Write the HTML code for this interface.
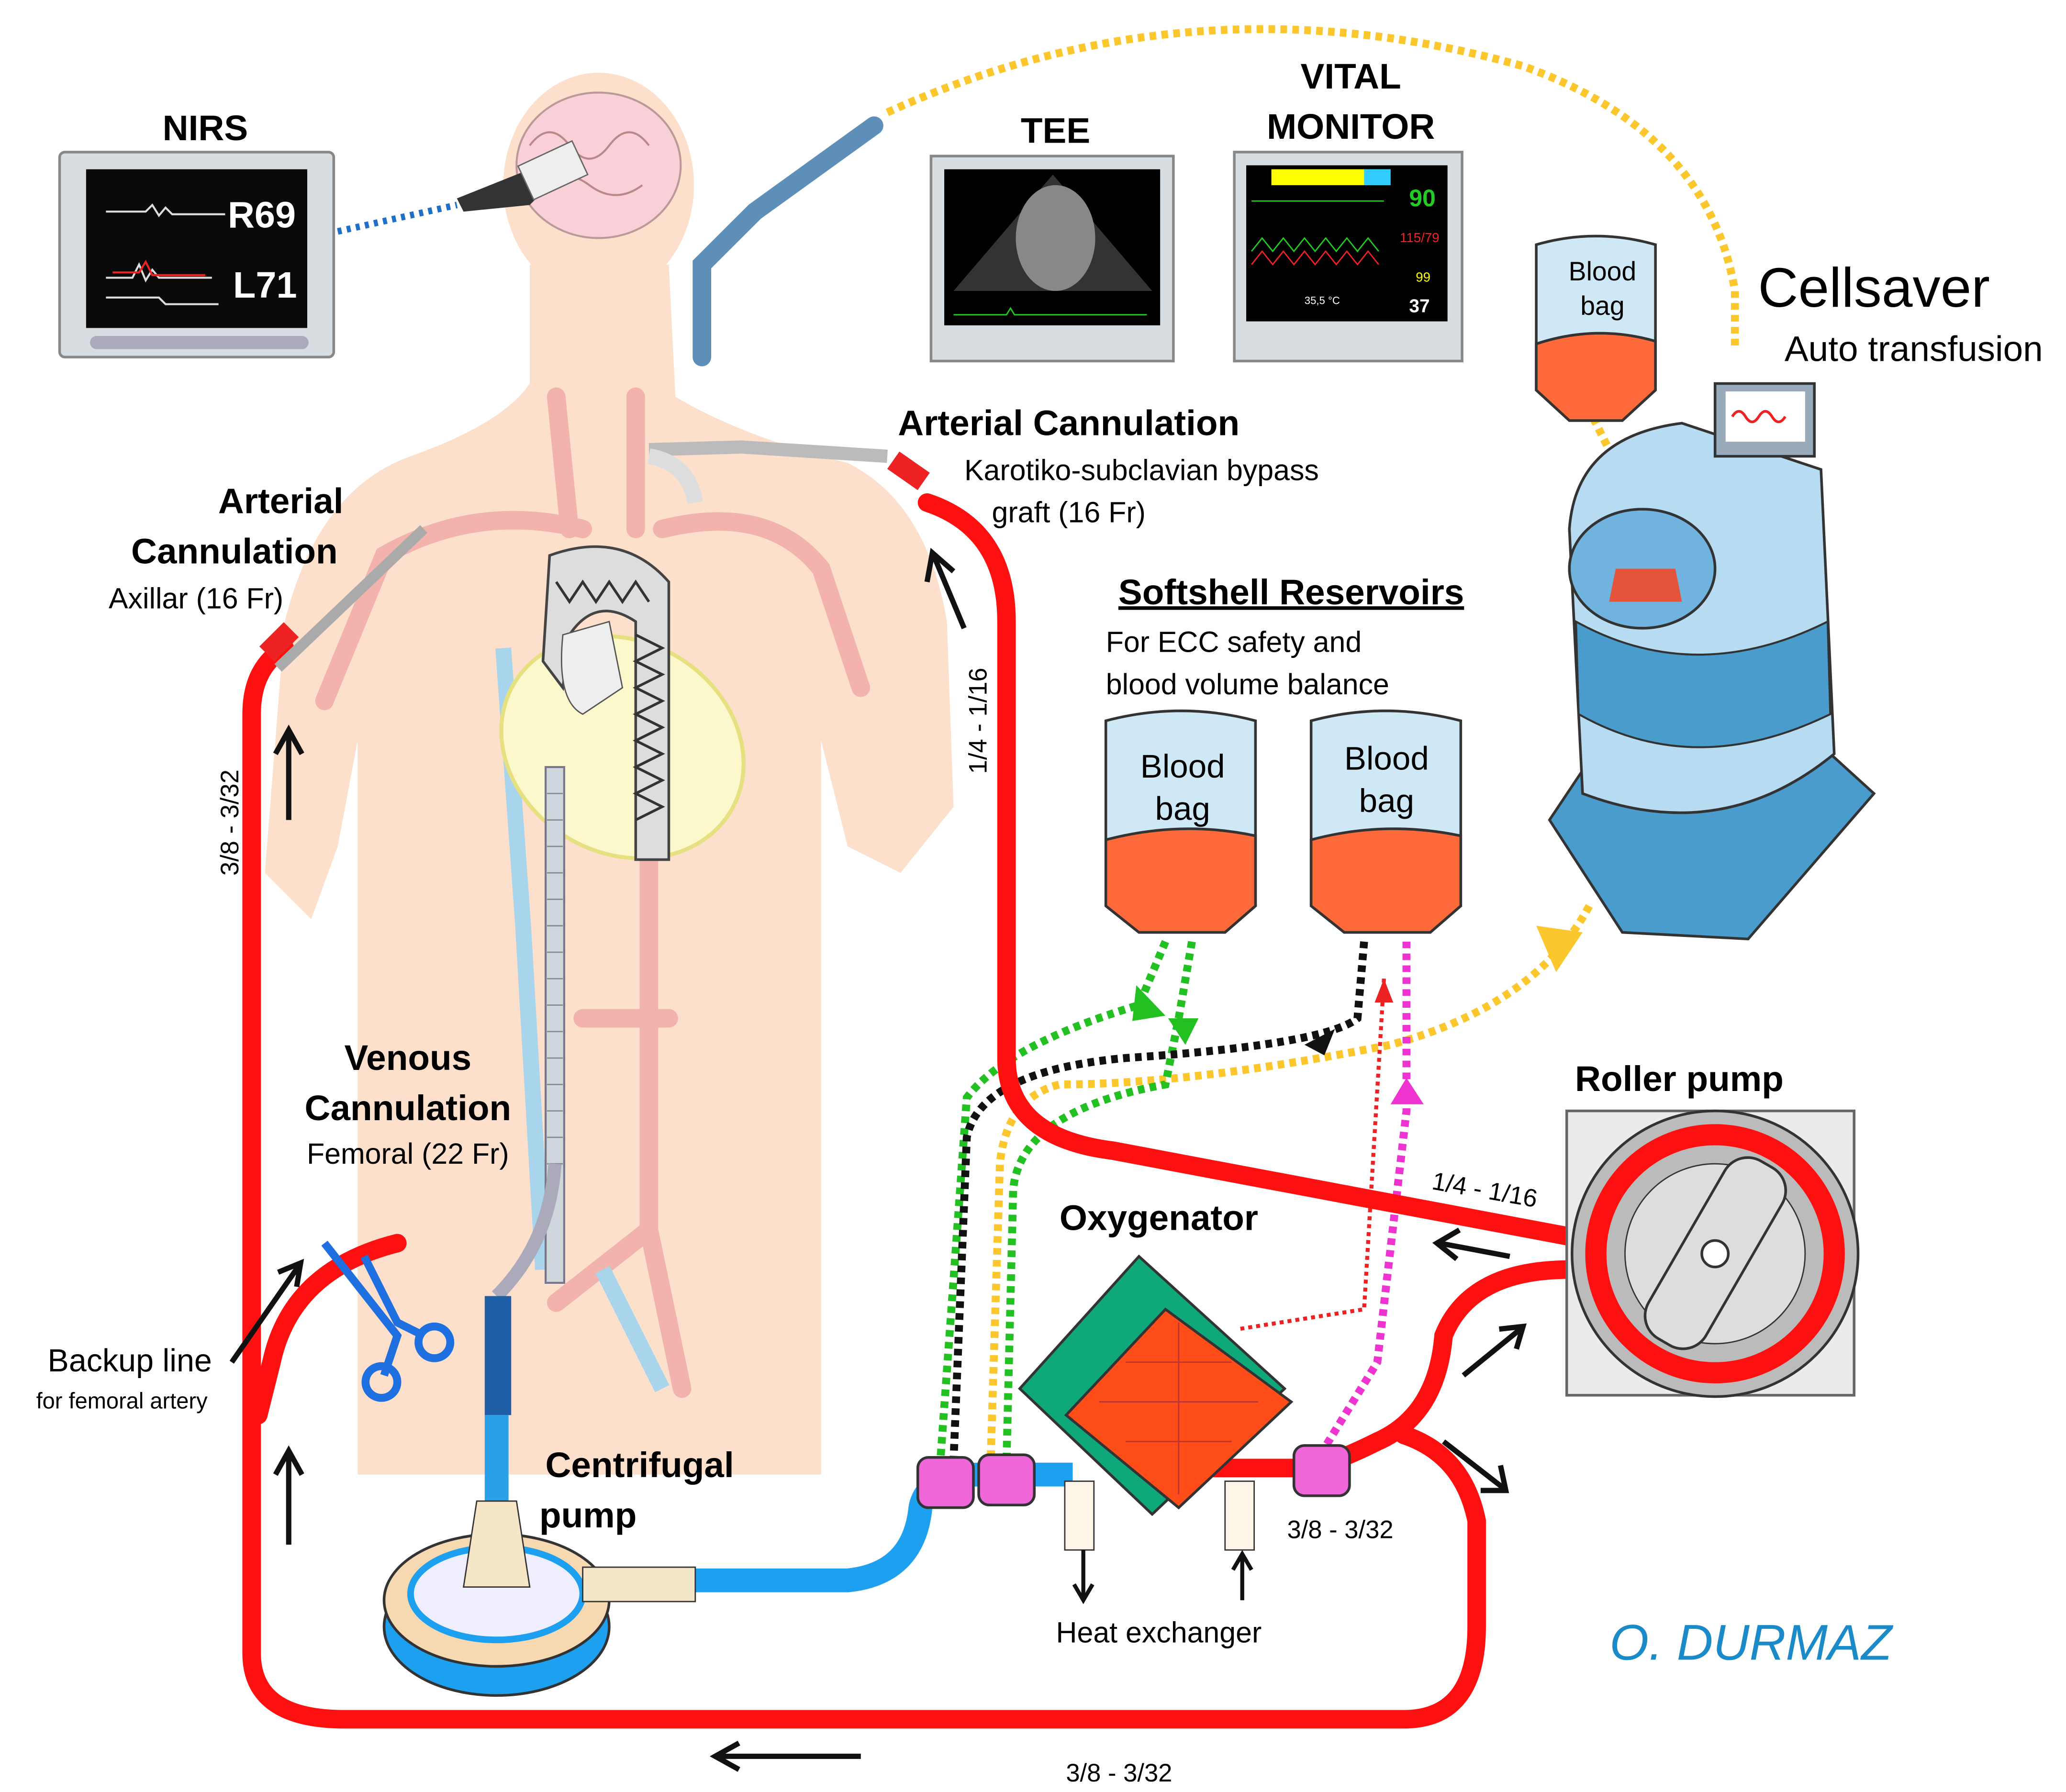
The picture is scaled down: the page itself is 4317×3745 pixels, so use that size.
<!DOCTYPE html>
<html><head><meta charset="utf-8"><style>
html,body{margin:0;padding:0;background:#fff;}
svg{display:block;}
text{font-family:"Liberation Sans",sans-serif;}
</style></head><body>
<svg width="4317" height="3745" viewBox="0 0 1560 1355" preserveAspectRatio="none" xmlns="http://www.w3.org/2000/svg">
<rect width="1560" height="1355" fill="#fff"/>
<!-- body -->
<g fill="#fde0cc">
<ellipse cx="452" cy="140" rx="72" ry="85"/>
<path d="M400 200 L505 200 L510 300 Q560 330 640 350 Q700 380 715 470 L720 610 L680 660 L640 640 L620 560 L620 1115 L270 1115 L270 560 L255 640 L235 695 L200 660 L215 470 Q240 370 310 345 Q380 320 400 290 Z"/>
</g>
<!-- brain -->
<ellipse cx="452" cy="125" rx="62" ry="55" fill="#f9d0d8" stroke="#b99" stroke-width="1.5"/>
<path d="M400 110 q15 -20 30 0 q15 20 30 0 q15 -20 30 0 M405 140 q20 -15 40 0 q20 15 40 0" fill="none" stroke="#b88" stroke-width="1.5"/>
<!-- vessels -->
<g fill="none" stroke="#f2b3ad" stroke-width="14" stroke-linecap="round">
<path d="M420 300 L430 400"/><path d="M480 300 L480 400"/>
<path d="M440 400 Q360 380 290 420 L245 530"/>
<path d="M500 400 Q580 380 620 430 L650 520"/>
<path d="M490 450 L490 930 L420 985"/><path d="M490 930 L515 1050"/>
<path d="M440 770 L505 770"/>
</g>
<g fill="none" stroke="#a8d4ec" stroke-width="12"><path d="M380 490 L395 700 L410 960"/><path d="M455 960 L500 1050"/></g>
<!-- heart -->
<ellipse cx="470" cy="565" rx="95" ry="80" fill="#fbf8cc" stroke="#e6e080" stroke-width="3" transform="rotate(30 470 565)"/>
<!-- aortic stent -->
<path d="M415 420 Q470 400 505 440 L505 650 L480 650 L480 470 Q450 450 430 480 L425 520 L410 500 Z" fill="#ddd" stroke="#444" stroke-width="2"/>
<path d="M420 440 l10 15 l10 -15 l10 15 l10 -15 l10 15 l10 -15 l10 15 M480 480 l20 10 l-20 10 l20 10 l-20 10 l20 10 l-20 10 l20 10 l-20 10 l20 10 l-20 10 l20 10 l-20 10 l20 10 l-20 10" fill="none" stroke="#333" stroke-width="2"/>
<path d="M425 480 Q420 530 440 540 L470 520 L460 470 Z" fill="#eee" stroke="#555"/>
<!-- venous cannula -->
<rect x="412" y="580" width="14" height="390" fill="#cfd6dc" stroke="#778" stroke-width="1.5"/>
<path d="M413 600 h12 M413 620 h12 M413 640 h12 M413 660 h12 M413 680 h12 M413 700 h12 M413 720 h12 M413 740 h12 M413 760 h12 M413 780 h12 M413 800 h12 M413 820 h12 M413 840 h12 M413 860 h12 M413 880 h12" stroke="#889" />
<path d="M419 880 Q415 940 375 980" fill="none" stroke="#aab" stroke-width="10"/>
<rect x="366" y="980" width="20" height="90" fill="#1f5fa8"/>
<path d="M375 1070 L375 1135" stroke="#2aa0e8" stroke-width="18"/>
<!-- monitors -->
<rect x="45" y="115" width="207" height="155" rx="4" fill="#d8dde2" stroke="#888" stroke-width="2"/>
<rect x="65" y="128" width="167" height="120" fill="#0a0a0a"/>
<rect x="68" y="254" width="165" height="10" rx="5" fill="#aab"/>
<path d="M80 160 h30 l5 -5 l5 8 l5 -6 l5 5 h40 M80 210 h20 l5 -10 l5 12 l5 -8 l5 6 h40 M80 225 h40 l5 5 h40" stroke="#ddd" stroke-width="1.5" fill="none"/>
<path d="M85 206 h20 l5 -8 l5 10 h40" stroke="#e22" stroke-width="1.5" fill="none"/>
<text x="172" y="172" font-size="28" font-weight="bold" fill="#fff">R69</text>
<text x="176" y="225" font-size="28" font-weight="bold" fill="#fff">L71</text>
<text x="155" y="106" font-size="27" font-weight="bold" text-anchor="middle">NIRS</text>
<rect x="703" y="118" width="183" height="155" fill="#d8dde2" stroke="#888" stroke-width="2"/>
<rect x="713" y="128" width="163" height="118" fill="#000"/>
<path d="M795 132 L870 220 L720 220 Z" fill="#333"/>
<ellipse cx="797" cy="180" rx="30" ry="40" fill="#888"/>
<path d="M720 238 h40 l3 -5 l3 5 h100" stroke="#2c2" fill="none"/>
<text x="797" y="108" font-size="27" font-weight="bold" text-anchor="middle">TEE</text>
<rect x="932" y="115" width="172" height="158" fill="#d8dde2" stroke="#888" stroke-width="2"/>
<rect x="941" y="125" width="152" height="118" fill="#000"/>
<rect x="960" y="128" width="90" height="12" fill="#ff0"/><rect x="1030" y="128" width="20" height="12" fill="#3cf"/>
<path d="M945 152 h100 M945 190 l8 -10 l8 10 l8 -10 l8 10 l8 -10 l8 10 l8 -10 l8 10 l8 -10 l8 10 l8 -10 l8 10" stroke="#2c2" fill="none"/>
<path d="M945 200 l8 -10 l8 10 l8 -10 l8 10 l8 -10 l8 10 l8 -10 l8 10 l8 -10 l8 10 l8 -10 l8 10" stroke="#e22" fill="none"/>
<text x="1064" y="156" font-size="18" font-weight="bold" fill="#2c2">90</text>
<text x="1057" y="183" font-size="10" fill="#e22">115/79</text>
<text x="1069" y="213" font-size="10" fill="#ff0">99</text>
<text x="1064" y="236" font-size="14" font-weight="bold" fill="#fff">37</text>
<text x="985" y="230" font-size="8" fill="#fff">35,5 °C</text>
<text x="1020" y="67" font-size="27" font-weight="bold" text-anchor="middle">VITAL</text>
<text x="1020" y="105" font-size="27" font-weight="bold" text-anchor="middle">MONITOR</text>
<!-- TEE probe -->
<path d="M660 95 L570 160 L530 200 L530 270" fill="none" stroke="#5d8fb8" stroke-width="14" stroke-linecap="round"/>
<!-- NIRS sensor -->
<path d="M345 150 L395 130 L415 140 L400 155 L350 160 Z" fill="#333"/>
<rect x="395" y="115" width="45" height="28" fill="#eee" stroke="#666" transform="rotate(-25 417 129)"/>
<path d="M255 175 L345 155" stroke="#1e6fc8" stroke-width="5" stroke-dasharray="3 4"/>
<!-- yellow dotted -->
<g fill="none" stroke="#fcc72c" stroke-width="6" stroke-dasharray="5 4">
<path d="M670 85 Q900 -20 1150 50 Q1290 100 1310 220 L1310 265"/>
<path d="M1195 300 L1230 370"/>
<path d="M1200 685 Q1160 760 1050 790 Q900 820 800 820 Q760 830 755 880 L748 1105"/>
</g>
<path d="M1160 700 L1195 705 L1175 735 Z" fill="#fcc72c"/>
<!-- Cellsaver -->
<path d="M1170 620 L1210 560 L1360 550 L1415 600 L1320 710 L1225 705 Z" fill="#4a9ccd" stroke="#333" stroke-width="2"/>
<path d="M1185 400 Q1190 330 1270 320 L1375 355 L1385 570 Q1300 640 1195 600 Z" fill="#b7dcf1" stroke="#333" stroke-width="2"/>
<ellipse cx="1240" cy="430" rx="55" ry="45" fill="#6fb3de" stroke="#333" stroke-width="2"/>
<path d="M1220 430 L1265 430 L1270 455 L1215 455 Z" fill="#e5533a"/>
<path d="M1190 470 Q1280 520 1380 470 L1382 540 Q1280 590 1192 540 Z" fill="#4a9ccd" stroke="#333" stroke-width="1.5"/>
<rect x="1295" y="290" width="75" height="55" fill="#9ab" stroke="#333" stroke-width="2"/>
<rect x="1303" y="296" width="60" height="38" fill="#fff"/>
<path d="M1308 315 q5 -8 10 0 q5 8 10 0 q5 -8 10 0 q5 8 10 0" stroke="#e22" fill="none" stroke-width="2"/>
<text x="1415" y="232" font-size="42" text-anchor="middle">Cellsaver</text>
<text x="1445" y="273" font-size="27" text-anchor="middle">Auto transfusion</text>
<!-- blood bags -->
<g stroke="#333" stroke-width="2">
<path d="M1160 185 Q1205 172 1250 185 L1250 295 L1225 318 L1185 318 L1160 295 Z" fill="#cfe8f6"/>
<path d="M1160 260 Q1205 245 1250 258 L1250 295 L1225 318 L1185 318 L1160 295 Z" fill="#ff6a3a"/>
<path d="M835 545 Q892 530 948 545 L948 685 L925 705 L860 705 L835 685 Z" fill="#cfe8f6"/>
<path d="M835 635 Q892 620 948 632 L948 685 L925 705 L860 705 L835 685 Z" fill="#ff6a3a"/>
<path d="M990 545 Q1046 530 1103 545 L1103 685 L1080 705 L1015 705 L990 685 Z" fill="#cfe8f6"/>
<path d="M990 635 Q1046 620 1103 632 L1103 685 L1080 705 L1015 705 L990 685 Z" fill="#ff6a3a"/>
</g>
<text x="1210" y="212" font-size="20" text-anchor="middle">Blood</text><text x="1210" y="238" font-size="20" text-anchor="middle">bag</text>
<text x="893" y="588" font-size="25" text-anchor="middle">Blood</text><text x="893" y="620" font-size="25" text-anchor="middle">bag</text>
<text x="1047" y="582" font-size="25" text-anchor="middle">Blood</text><text x="1047" y="614" font-size="25" text-anchor="middle">bag</text>
<!-- dotted lines -->
<g fill="none" stroke-width="6" stroke-dasharray="5 4">
<path d="M880 712 L860 760 Q760 790 730 830 L710 1105" stroke="#22c020"/>
<path d="M900 712 L890 770 L880 820 Q770 840 765 900 L760 1105" stroke="#22c020"/>
<path d="M1030 712 L1025 770 Q1000 790 850 800 Q740 810 730 860 L720 1105" stroke="#111"/>
<path d="M1062 712 L1062 840 L1040 1030 L1000 1095" stroke="#ee33d0"/>
</g>
<path d="M1045 740 L1030 990 L935 1005" fill="none" stroke="#e22" stroke-width="3" stroke-dasharray="3 3"/>
<path d="M858 745 L880 768 L855 772 Z M882 770 L905 770 L895 790 Z" fill="#22c020"/>
<path d="M985 790 L1008 778 L1000 798 Z" fill="#111"/>
<path d="M1050 835 L1075 835 L1062 815 Z" fill="#ee33d0"/>
<path d="M1038 758 L1052 758 L1045 740 Z" fill="#e22"/>
<!-- red tubes -->
<g fill="none" stroke="#ff1010" stroke-width="14" stroke-linecap="round">
<path d="M215 490 Q190 505 190 540 L190 1250 Q190 1300 260 1300 L1060 1300 Q1115 1300 1115 1230 L1115 1150 Q1105 1100 1060 1085"/>
<path d="M700 380 Q760 400 760 470 L760 800 Q760 860 840 870 L1185 935"/>
<path d="M1185 960 Q1110 960 1090 1010 Q1085 1070 1040 1090 Q1010 1105 990 1110 L885 1110"/>
<path d="M300 940 Q220 960 205 1030 L195 1070"/>
</g>
<!-- cannulas -->
<path d="M210 505 L320 400" stroke="#aaa" stroke-width="8"/><rect x="198" y="478" width="26" height="16" fill="#e22" transform="rotate(-45 210 486)"/>
<path d="M490 340 L560 338 L670 345" stroke="#bbb" stroke-width="10" fill="none"/>
<path d="M490 345 Q520 350 525 380" stroke="#ddd" stroke-width="12" fill="none"/>
<rect x="672" y="348" width="28" height="16" fill="#e22" transform="rotate(35 686 356)"/>
<!-- clamp -->
<g fill="none" stroke="#1e6fe0" stroke-width="6"><path d="M245 940 L300 1010 L290 1040"/><path d="M275 950 L300 1000 L320 1010"/><circle cx="288" cy="1045" r="12"/><circle cx="328" cy="1015" r="12"/></g>
<!-- blue tube + pump -->
<path d="M525 1195 L640 1195 Q690 1190 695 1140 Q700 1115 740 1115 L810 1115" fill="none" stroke="#1ea0f0" stroke-width="18"/>
<ellipse cx="375" cy="1230" rx="85" ry="52" fill="#1ea0f0" stroke="#333" stroke-width="2"/>
<ellipse cx="375" cy="1210" rx="85" ry="50" fill="#f6d9b0" stroke="#333" stroke-width="2"/>
<ellipse cx="375" cy="1205" rx="65" ry="35" fill="#eef" stroke="#1ea0f0" stroke-width="5"/>
<path d="M360 1135 L390 1135 L400 1200 L350 1200 Z" fill="#f6e6c8" stroke="#333"/>
<rect x="440" y="1185" width="85" height="26" fill="#f6e6c8" stroke="#333"/>
<!-- oxygenator -->
<polygon points="770,1050 860,950 970,1050 870,1145" fill="#0ea87a" stroke="#333" stroke-width="2"/>
<polygon points="805,1070 880,990 975,1060 890,1140" fill="#ff4d1a" stroke="#333" stroke-width="2"/>
<path d="M830 1060 L950 1060 M890 1000 L890 1130 M850 1030 L930 1030 M850 1090 L930 1090" stroke="#b33" stroke-width="1"/>
<rect x="804" y="1120" width="22" height="52" fill="#fdf6e8" stroke="#333"/>
<rect x="925" y="1120" width="22" height="52" fill="#fdf6e8" stroke="#333"/>
<path d="M818 1172 V1210 M811 1198 L818 1210 L825 1198 M938 1210 V1175 M931 1187 L938 1175 L945 1187" stroke="#111" stroke-width="3" fill="none"/>
<g fill="#ee66d8" stroke="#333" stroke-width="2">
<rect x="693" y="1102" width="42" height="38" rx="8"/><rect x="739" y="1100" width="42" height="38" rx="8"/><rect x="977" y="1093" width="42" height="38" rx="8"/></g>
<!-- roller pump -->
<rect x="1183" y="840" width="217" height="215" fill="#ebebeb" stroke="#666" stroke-width="2"/>
<circle cx="1295" cy="948" r="108" fill="#bbb" stroke="#333" stroke-width="2"/>
<circle cx="1295" cy="948" r="90" fill="none" stroke="#ff1010" stroke-width="16"/>
<circle cx="1295" cy="948" r="68" fill="#ddd" stroke="#333"/>
<rect x="1270" y="870" width="50" height="155" rx="20" fill="#ddd" stroke="#333" stroke-width="2" transform="rotate(30 1295 948)"/>
<circle cx="1295" cy="948" r="10" fill="#fff" stroke="#333" stroke-width="2"/>
<!-- arrows -->
<g stroke="#111" stroke-width="4" fill="none">
<path d="M218 620 V555 M208 570 L218 552 L228 570"/>
<path d="M218 1168 V1100 M208 1115 L218 1097 L228 1115"/>
<path d="M728 475 L705 420 M700 440 L704 418 L720 432"/>
<path d="M650 1328 H540 M558 1318 L540 1328 L558 1338"/>
<path d="M1140 950 L1087 940 M1102 930 L1085 940 L1100 952"/>
<path d="M1105 1040 L1148 1005 M1132 1005 L1150 1003 L1145 1020"/>
<path d="M1090 1090 L1135 1125 M1133 1108 L1137 1127 L1118 1127"/>
<path d="M175 1030 L225 958 M210 962 L227 955 L224 973"/>
</g>
<!-- labels -->
<g font-weight="bold" font-size="27" text-anchor="middle">
<text x="212" y="388">Arterial</text><text x="177" y="426">Cannulation</text>
<text x="807" y="329">Arterial Cannulation</text>
<text x="975" y="457" text-decoration="underline">Softshell Reservoirs</text>
<text x="308" y="809">Venous</text><text x="308" y="847">Cannulation</text>
<text x="875" y="930">Oxygenator</text>
<text x="1268" y="825">Roller pump</text>
<text x="483" y="1117">Centrifugal</text><text x="444" y="1155">pump</text>
</g>
<g font-size="22">
<text x="148" y="460" text-anchor="middle">Axillar (16 Fr)</text>
<text x="862" y="363" text-anchor="middle">Karotiko-subclavian bypass</text>
<text x="807" y="395" text-anchor="middle">graft (16 Fr)</text>
<text x="835" y="493">For ECC safety and</text>
<text x="835" y="525">blood volume balance</text>
<text x="308" y="880" text-anchor="middle">Femoral (22 Fr)</text>
<text x="98" y="1037" text-anchor="middle" font-size="24">Backup line</text>
<text x="92" y="1065" text-anchor="middle" font-size="17">for femoral artery</text>
<text x="875" y="1242" text-anchor="middle">Heat exchanger</text>
</g>
<g font-size="19">
<text x="1012" y="1163" text-anchor="middle">3/8 - 3/32</text>
<text x="845" y="1347" text-anchor="middle">3/8 - 3/32</text>
<text x="1120" y="906" transform="rotate(10 1120 906)" text-anchor="middle">1/4 - 1/16</text>
<text transform="translate(180 622) rotate(-90)" text-anchor="middle">3/8 - 3/32</text>
<text transform="translate(745 545) rotate(-90)" text-anchor="middle">1/4 - 1/16</text>
</g>
<text x="1322" y="1255" font-size="38" fill="#1a8bc8" text-anchor="middle" font-style="italic">O. DURMAZ</text>
</svg>
</body></html>
